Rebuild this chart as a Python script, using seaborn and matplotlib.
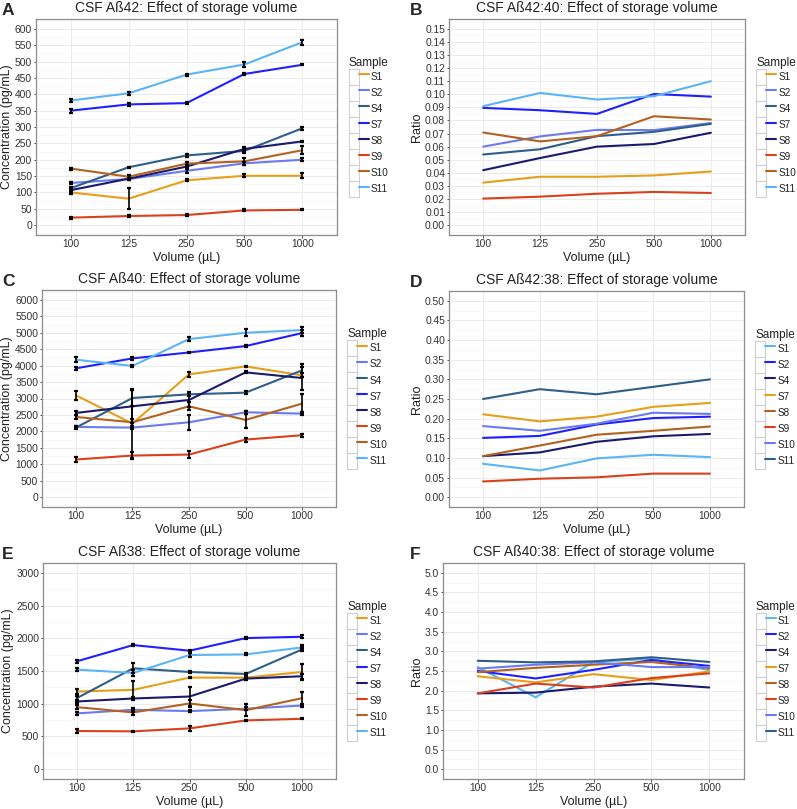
import matplotlib
matplotlib.use("Agg")
import matplotlib.pyplot as plt
from matplotlib.ticker import MultipleLocator, FixedLocator
from matplotlib.patches import Patch
from matplotlib.lines import Line2D
from matplotlib.legend_handler import HandlerTuple
import pandas as pd
import seaborn as sns

sns.set_theme(style="white")
plt.rcParams["font.family"] = ["Liberation Sans", "DejaVu Sans"]

VOLUMES = ["100", "125", "250", "500", "1000"]
SAMPLES = ["S1", "S2", "S4", "S7", "S8", "S9", "S10", "S11"]

# colours as used in panels A, B, C, E
PAL_MAIN = {"S1": "#E69F1A", "S2": "#6A7AF0", "S4": "#2F5F88", "S7": "#2020FF",
            "S8": "#1A1A6E", "S9": "#D9401C", "S10": "#B2621E", "S11": "#5AB4F5"}
# panels D and F got a different colour assignment
PAL_ALT = {"S1": "#5AB4F5", "S2": "#2020FF", "S4": "#1A1A6E", "S7": "#E69F1A",
           "S8": "#B2621E", "S9": "#D9401C", "S10": "#6A7AF0", "S11": "#2F5F88"}

# A: Abeta42 concentration (pg/mL)
AB42_MEAN = {"S1": [100, 81, 137, 151, 151], "S2": [129, 141, 166, 189, 200],
             "S4": [113, 177, 213, 227, 296], "S7": [350, 369, 373, 462, 490],
             "S8": [107, 142, 179, 233, 256], "S9": [23, 28, 31, 45, 47],
             "S10": [173, 148, 188, 195, 229], "S11": [381, 403, 460, 491, 559]}
AB42_ERR = {"S1": [5, 32, 3, 4, 8], "S2": [2, 3, 6, 4, 4],
            "S4": [4, 2, 6, 7, 5], "S7": [6, 5, 2, 4, 2],
            "S8": [5, 3, 5, 6, 2], "S9": [3, 2, 3, 3, 2],
            "S10": [3, 5, 6, 10, 12], "S11": [4, 4, 3, 7, 7]}

# B: Abeta42:40 ratio
R4240 = {"S1": [0.0325, 0.037, 0.037, 0.038, 0.041], "S2": [0.060, 0.0678, 0.0728, 0.0726, 0.078],
         "S4": [0.054, 0.058, 0.068, 0.0713, 0.0774], "S7": [0.0896, 0.0878, 0.085, 0.1002, 0.0982],
         "S8": [0.042, 0.0513, 0.060, 0.062, 0.0706], "S9": [0.0203, 0.0218, 0.024, 0.0254, 0.0246],
         "S10": [0.0708, 0.064, 0.068, 0.0832, 0.0807], "S11": [0.0909, 0.101, 0.096, 0.0985, 0.110]}

# C: Abeta40 concentration (pg/mL)
AB40_MEAN = {"S1": [3097, 2237, 3734, 3977, 3704], "S2": [2135, 2115, 2277, 2581, 2540],
             "S4": [2115, 3016, 3127, 3178, 3856], "S7": [3917, 4220, 4400, 4595, 4990],
             "S8": [2560, 2763, 2955, 3795, 3623], "S9": [1144, 1265, 1295, 1751, 1882],
             "S10": [2439, 2277, 2763, 2348, 2844], "S11": [4180, 3990, 4807, 5000, 5080]}
AB40_ERR = {"S1": [140, 1050, 80, 20, 60], "S2": [40, 30, 220, 40, 40],
            "S4": [40, 250, 60, 40, 200], "S7": [40, 40, 10, 30, 80],
            "S8": [60, 500, 200, 30, 350], "S9": [80, 100, 100, 60, 50],
            "S10": [60, 100, 120, 260, 300], "S11": [80, 20, 50, 100, 80]}

# D: Abeta42:38 ratio
R4238 = {"S1": [0.085, 0.068, 0.0987, 0.108, 0.102], "S2": [0.151, 0.156, 0.185, 0.2015, 0.205],
         "S4": [0.1045, 0.114, 0.141, 0.155, 0.161], "S7": [0.211, 0.193, 0.205, 0.230, 0.240],
         "S8": [0.1045, 0.1315, 0.159, 0.169, 0.180], "S9": [0.040, 0.047, 0.0506, 0.060, 0.060],
         "S10": [0.181, 0.169, 0.187, 0.215, 0.212], "S11": [0.250, 0.275, 0.262, 0.281, 0.300]}

# E: Abeta38 concentration (pg/mL)
AB38_MEAN = {"S1": [1186, 1212, 1399, 1399, 1485], "S2": [852, 907, 887, 923, 973],
             "S4": [1085, 1541, 1485, 1455, 1830], "S7": [1648, 1896, 1810, 2003, 2023],
             "S8": [1034, 1080, 1110, 1384, 1420], "S9": [583, 578, 623, 745, 770],
             "S10": [948, 867, 1004, 902, 1085], "S11": [1521, 1470, 1744, 1754, 1860]}
AB38_ERR = {"S1": [35, 140, 10, 10, 125], "S2": [25, 30, 20, 20, 25],
            "S4": [40, 75, 20, 20, 30], "S7": [20, 10, 15, 15, 20],
            "S8": [20, 20, 150, 20, 40], "S9": [25, 10, 40, 10, 10],
            "S10": [30, 40, 60, 90, 100], "S11": [25, 40, 30, 15, 30]}

# F: Abeta40:38 ratio
R4038 = {"S1": [2.60, 1.83, 2.73, 2.81, 2.52], "S2": [2.50, 2.31, 2.53, 2.78, 2.63],
         "S4": [1.93, 1.95, 2.10, 2.18, 2.08], "S7": [2.365, 2.21, 2.42, 2.27, 2.49],
         "S8": [2.47, 2.58, 2.66, 2.73, 2.57], "S9": [1.93, 2.18, 2.08, 2.32, 2.44],
         "S10": [2.56, 2.66, 2.72, 2.60, 2.60], "S11": [2.76, 2.72, 2.745, 2.85, 2.73]}

W, H = 797, 809
fig = plt.figure(figsize=(W / 100, H / 100), dpi=100)


def px_axes(left, right, top, bottom):
    return fig.add_axes([left / W, 1 - bottom / H, (right - left) / W, (bottom - top) / H])


def draw_panel(ax, letter, letter_x, title, mean, err, ymax, ystep, ylabel, palette, fmt):
    rows = []
    for s in SAMPLES:
        for i, v in enumerate(VOLUMES):
            rows.append({"Sample": s, "pos": i, "value": mean[s][i]})
    df = pd.DataFrame(rows)

    # grid first (ggplot theme_bw look)
    ax.set_axisbelow(True)
    ax.yaxis.set_major_locator(MultipleLocator(ystep))
    ax.yaxis.set_minor_locator(MultipleLocator(ystep / 2))
    ax.xaxis.set_major_locator(FixedLocator(range(len(VOLUMES))))
    ax.grid(which="major", color="#ebebeb", linewidth=0.7)
    ax.grid(which="minor", axis="y", color="#f5f5f5", linewidth=0.5)

    sns.lineplot(data=df, x="pos", y="value", hue="Sample", hue_order=SAMPLES,
                 palette=palette, ax=ax, linewidth=1.5, legend=False, sort=False)

    if err is not None:
        for s in SAMPLES:
            ax.errorbar(range(len(VOLUMES)), mean[s], yerr=err[s], fmt="none",
                        ecolor="black", elinewidth=1.2, capsize=1.6, capthick=1.6, zorder=3)

    pad = ymax * 0.05
    ax.set_ylim(-pad, ymax + pad)
    ax.set_xlim(-0.6, len(VOLUMES) - 0.4)
    ax.set_xticks(range(len(VOLUMES)))
    ax.set_xticklabels(VOLUMES)
    ax.yaxis.set_major_formatter(plt.FuncFormatter(lambda v, p: fmt.format(v)))
    ax.tick_params(which="major", length=1.8, width=0.6, color="#333333",
                   labelsize=7.4, labelcolor="#333333", pad=1.0, left=True, bottom=True)
    ax.tick_params(which="minor", length=0)
    for sp in ax.spines.values():
        sp.set_color("#8c8c8c")
        sp.set_linewidth(0.9)

    ax.set_xlabel("Volume (µL)", fontsize=9, labelpad=2, color="#222222")
    ax.set_ylabel(ylabel, fontsize=9, labelpad=1.5, color="#222222")
    ax.set_title(title, fontsize=10, pad=5, color="#222222")

    handles = [(Patch(facecolor="white", edgecolor="#cfcfcf", linewidth=0.8),
                Line2D([], [], color=palette[s], linewidth=1.5)) for s in SAMPLES]
    leg = ax.legend(handles, SAMPLES, handler_map={tuple: HandlerTuple(ndivide=None, pad=0)},
                    title="Sample", loc="center left", bbox_to_anchor=(1.025, 0.5),
                    frameon=False, handlelength=2.0, handleheight=2.1, labelspacing=0.0,
                    handletextpad=0.2, fontsize=7.2, title_fontsize=8.5, borderaxespad=0,
                    alignment="left")
    for t in leg.get_texts():
        t.set_color("#222222")
    leg.get_title().set_color("#222222")

    bb = ax.get_position()
    fig.text(letter_x / W, bb.y1 + 16 / H, letter, fontsize=12.5, fontweight="bold",
             va="top", ha="left")


conc = "Concentration (pg/mL)"
draw_panel(px_axes(36, 337, 19, 235), "A", 2, "CSF Aß42: Effect of storage volume",
           AB42_MEAN, AB42_ERR, 600, 50, conc, PAL_MAIN, "{:.0f}")
draw_panel(px_axes(449, 745, 19, 235), "B", 410, "CSF Aß42:40: Effect of storage volume",
           R4240, None, 0.15, 0.01, "Ratio", PAL_MAIN, "{:.2f}")
draw_panel(px_axes(42, 336, 290, 507), "C", 2, "CSF Aß40: Effect of storage volume",
           AB40_MEAN, AB40_ERR, 6000, 500, conc, PAL_MAIN, "{:.0f}")
draw_panel(px_axes(449, 744, 291, 507), "D", 410, "CSF Aß42:38: Effect of storage volume",
           R4238, None, 0.5, 0.05, "Ratio", PAL_ALT, "{:.2f}")
draw_panel(px_axes(43, 336, 563, 779), "E", 2, "CSF Aß38: Effect of storage volume",
           AB38_MEAN, AB38_ERR, 3000, 500, conc, PAL_MAIN, "{:.0f}")
draw_panel(px_axes(443, 744, 563, 779), "F", 410, "CSF Aß40:38: Effect of storage volume",
           R4038, None, 5.0, 0.5, "Ratio", PAL_ALT, "{:.1f}")

fig.savefig("out.png", dpi=100)
